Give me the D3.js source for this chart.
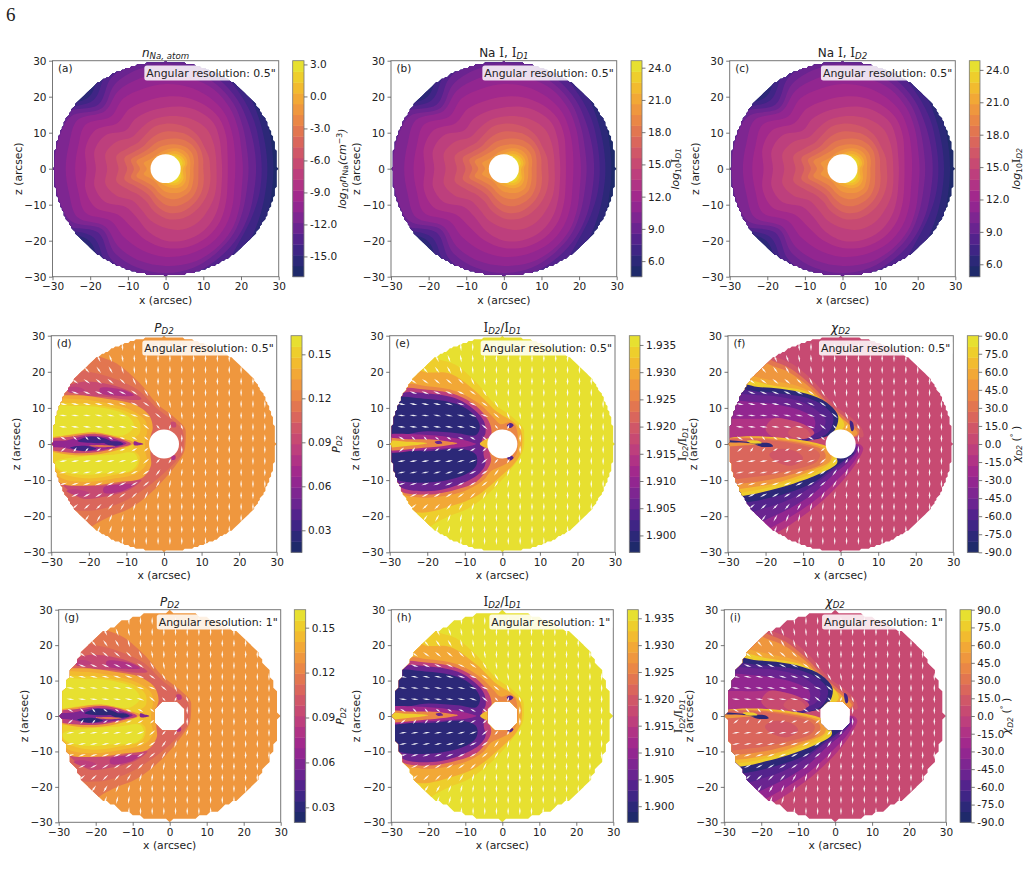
<!DOCTYPE html>
<html>
<head>
<meta charset="utf-8">
<script src="https://cdn.jsdelivr.net/npm/d3@7"></script>
<style>
  html, body { margin: 0; background: #fff; }
  svg text { font-family: "DejaVu Sans", sans-serif; fill: #222; }
</style>
</head>
<body>
<svg id="fig" width="1030" height="874"></svg>
<script>
// Discretised colour table shared by every panel, low to high.
const bandPalette = ["#1f2a6b","#2c2878","#3f2585","#53238c","#6a2490","#7e2691","#922690","#a2298c","#b03385","#bd3f7d",
                     "#c74a72","#d05768","#da665c","#e27650","#ea8746","#ef973e","#f2a836","#f2bb2f","#eece2c","#e7e030"];

// Directions (degrees) at which the emission contours are sampled.
const contourAngles = [0,15,30,45,60,75,90,105,120,135,150,165,180,195,210,225,240,255,270,285,300,315,330,345];

// Contour radii in arcsec for colour bands 1..19 of the density and intensity maps.
const contourRadii = [
  [28.6,29,30.5,33,34,34,34,34,34,30,34,34,34,34,34,30,34,34,34,34,34,33,30.5,29],
  [27,27.3,28.5,30.5,33,34,34,34,33,28.5,33,34,34,34,33,28.5,33,34,34,34,33,30.5,28.5,27.3],
  [25.5,25.8,27,28.5,30.5,33,33,33,31,27,32,33,33,33,32,27,31,33,33,33,31,28,26.5,25.8],
  [24,24.3,25.3,27,28.5,30,31.5,31,29,25.2,31,32,32,32,31,25.2,29,31,31.5,30,28.5,27,25.5,24.3],
  [22,22.3,23.6,25.5,27,28,29,28.5,27,23.8,29,29.5,29.5,29.5,29,23.8,27,28.5,29,28.5,27,25.5,23.6,22.3],
  [20.5,20.8,22.2,24,25.5,26,26.5,26,25,22.7,27,26.5,26.5,26.5,27,22.7,25,26.5,27,27,26,24.5,22.5,20.9],
  [18.5,19,20.3,22,23,23.5,23.5,23,22.5,20.5,24.5,24,24,24,24.5,20.5,22,23.5,24.5,24.5,24,22.5,20.5,18.9],
  [16.5,17,18.5,20,20.5,20.5,20,19.5,19.2,18,21.5,22,21,22,21.5,18,18.5,20.5,22,22.5,22,20.5,18.5,17],
  [15,15.3,16.5,18,18.2,17.8,17,16.5,16,15,18.5,19.5,18.5,19.5,18.5,15,15.5,18,20,20.5,20,18.5,16.7,15.4],
  [13.5,13.8,14.6,15.5,15.5,15,14.5,14,13,12.5,15,16.5,15.5,16.5,15,12.5,13,15,16.5,17.5,17.2,16,15,14],
  [11.8,11.9,11.9,12.5,12.8,12.7,12.5,12,10.8,10.3,11.5,13.5,12.5,13.5,11.5,10.2,10.4,12.2,13.8,14.5,14.3,13.7,13,12.3],
  [10,10.3,10.7,11,11,10.6,10.3,9.7,9,8.6,9.5,11.3,10.2,11.3,9.5,8.6,8.7,10.3,12,12.7,12.5,12,11.3,10.5],
  [8.7,9,9.5,9.6,9.3,8.7,8.2,7.8,7.3,7.2,8,9.5,8.4,9.5,8,7.2,7.3,8.5,10,10.8,10.8,10.5,9.8,9],
  [7.4,7.8,8.2,8.1,7.6,7,6.5,6.2,5.8,6,6.7,8,6.8,8,6.7,6,6,6.9,8,8.8,9,9,8.3,7.7],
  [6.5,6.8,7.1,7,6.5,5.8,5.2,4.8,4.5,4.5,5,6,5,6,5,4.5,4.7,5.5,6.4,7,7.6,7.8,7.2,6.7],
  [5.3,6,6.2,6,5.6,4.9,4.2,3.8,3.5,3.5,3.5,3.5,3.5,3.5,3.5,3.5,3.5,4.3,4.8,5.5,6.2,6.5,6.2,5.6],
  [4.6,5.4,5.5,5.3,4.8,4.2,3.7,3.4,3.4,3.4,3.4,3.4,3.4,3.4,3.4,3.4,3.4,3.6,4,4.6,5.3,5.6,5.5,4.8],
  [3.8,4.7,4.9,4.6,4.2,3.6,3.3,3.3,3.3,3.3,3.3,3.3,3.3,3.3,3.3,3.3,3.3,3.3,3.4,3.9,4.6,4.9,4.8,4.2],
  [3.2,4,4.3,4,3.5,3.2,3,3,3,3,3,3,3,3,3,3,3,3,3,3.3,4,4.3,4.2,3.6]
];

// Filled regions of the polarisation degree P_D2: [value, outline in (x, z) arcsec], painted in order.
const polDegreeRegions = [
  [0.118, [[-22,26],[-17,24.2],[-12.6,22.3],[-6.4,16.8],[-2,11.3],[2.5,7.6],[5.6,4.3],[5.8,2.5],[5.4,-2],[3.8,-4.9],[0.7,-9],[-3.7,-13.7],[-9,-17.8],[-14.4,-20.1],[-18,-22],[-24,-26],[-34,-20],[-34,20]]],
  [0.108, [[-27,20],[-20,20],[-13,18],[-7,15],[-2,10],[3,6],[5,3.5],[5,-2],[3,-5],[-1,-9],[-6,-13],[-12,-16.5],[-20,-18.5],[-27,-17],[-35,0]]],
  [0.095, [[-26.5,15.5],[-22,17.2],[-16,16.8],[-10,15],[-6,12.5],[-9,12.2],[-15,13],[-22,13.5]]],
  [0.08, [[-17,15.5],[-11,15],[-8,13.5],[-12,13.3],[-17,14.2]]],
  [0.085, [[-26,15.3],[-23,15.8],[-21,14.8],[-25,14.2]]],
  [0.095, [[-27,-11],[-22,-15],[-16,-14.6],[-9,-12.5],[-6,-10],[-10,-10.5],[-16,-11.5],[-22,-11.5]]],
  [0.08, [[-16,-13.5],[-11,-13],[-8,-11.2],[-12,-11.2],[-16,-12]]],
  [0.085, [[-26,-13],[-22,-14.5],[-20,-13.5],[-24,-12.5]]],
  [0.09, [[1.8,6],[3,6],[3.2,4.8],[2.2,4.6]]],
  [0.08, [[2,-3.4],[3,-3.2],[3,-4.2],[2,-4.4]]],
  [0.135, [[-33,12],[-24,13.5],[-15,12.5],[-8,11],[-4,8],[-3,4.5],[-3.6,2],[-3.6,-3],[-3.5,-6],[-6,-9.5],[-12,-10.5],[-20,-11.5],[-28,-10.5],[-33,0]]],
  [0.142, [[-33,11.5],[-24,12.5],[-16,11.5],[-9,9.5],[-5,6.5],[-4.5,3.5],[-5,1],[-5,-2],[-4.5,-5],[-7,-8],[-13,-9.5],[-21,-10.5],[-28,-9],[-33,0]]],
  [0.15, [[-33,10.5],[-24,11.3],[-16,10.5],[-9,8.5],[-6.5,6],[-6.5,3],[-8,1.5],[-8,-1.5],[-6.5,-3.5],[-7.5,-7],[-13,-8.5],[-21,-9.5],[-28,-7.5],[-33,0]]],
  [0.158, [[-33,10],[-24,10.5],[-16,10],[-10,8],[-8,5],[-10.5,2.5],[-15,2.5],[-22,3],[-33,2.5]]],
  [0.158, [[-29,-5],[-22,-3.5],[-14,-3],[-8,-2.5],[-7,-5],[-9,-7.5],[-15,-8],[-22,-8.5],[-28,-7]]],
  [0.13, [[-33,0.8],[-25,2.5],[-18,3.2],[-11,1.5],[-8,0.3],[-11,-1.2],[-17,-2.8],[-25,-3],[-33,-0.8]]],
  [0.09, [[-33,0.7],[-25,2],[-18,2.8],[-12,1.5],[-8.8,0],[-12,-1],[-18,-2.3],[-25,-2.4],[-33,-0.7]]],
  [0.06, [[-32,0.5],[-26,1],[-21,2.2],[-16,2],[-12,1],[-10,0.2],[-12,-0.7],[-17,-1.7],[-22,-2],[-27,-1],[-32,-0.5]]],
  [0.03, [[-23,0.8],[-20,2],[-16,1.6],[-14,0.6],[-18,0.2]]],
  [0.03, [[-25,-1],[-21,-0.5],[-18,-1.3],[-22,-1.9]]],
  [0.03, [[-16,0.4],[-12,0.7],[-10.8,0],[-14,-0.5]]],
  [0.115, [[-20,-0.5],[-17,-0.3],[-13,-0.6],[-17,-0.9]]],
  [0.06, [[-8,0.7],[-7,0.5],[-5.5,0],[-7,-0.4],[-8,-0.3]]]
];

// Filled regions of the line ratio I_D2/I_D1.
const ratioRegions = [
  [1.934, [[-22,26],[-17,23.5],[-12.6,22],[-6.4,16.5],[-2,11],[2.5,7.6],[5.6,4.3],[5.8,2.5],[5.6,-1.5],[3.8,-4.9],[0.7,-9],[-3.7,-13.7],[-9,-17.8],[-14.4,-20.1],[-18,-22],[-24,-26],[-34,-20],[-34,20]]],
  [1.930, [[-24,22],[-21,20],[-14,19.5],[-7,14.5],[-1.5,9],[3,6],[5,3.5],[5,-2],[3.5,-5],[-1,-9.5],[-7,-14.5],[-13,-17],[-22,-19],[-28,-17],[-34,0],[-28,17]]],
  [1.925, [[-28,16],[-20,16],[-12,14.5],[-6,11],[-2.5,7.5],[-0.5,5.5],[2,6],[3.5,5],[4,-2],[2.5,-4.5],[0,-6],[-3,-7.5],[-5,-10],[-10,-13],[-16,-14.5],[-22,-14.8],[-28,-13],[-34,0]]],
  [1.915, [[-28,14.8],[-20,15],[-12,13.5],[-7,10.5],[-4,7],[-3,4.5],[-3,2],[-4,0],[-3.5,-2],[-3,-4.5],[-4,-7],[-7,-10.5],[-12,-12.5],[-20,-14],[-28,-12.5],[-34,0]]],
  [1.905, [[-28,13.5],[-20,14],[-12,12.5],[-7.5,9.5],[-5,6.5],[-4.5,3],[-5.5,1],[-5,0.5],[-5,-3],[-4.5,-5.5],[-6,-8],[-11,-11],[-19,-13],[-28,-11.5],[-34,0]]],
  [1.899, [[-33,12],[-20,12.5],[-12,11],[-8,8.5],[-6,5],[-7,2.5],[-12,3],[-20,3.5],[-33,2.5]]],
  [1.899, [[-33,-2.5],[-20,-2],[-10,-1.5],[-7,-3],[-7,-6],[-10,-8.5],[-18,-10.5],[-28,-10],[-33,-6]]],
  [1.912, [[-33,1.8],[-20,2.5],[-12,1.5],[-8,0.4],[-7,0],[-8,-0.4],[-12,-1],[-20,-1.5],[-33,-1.8]]],
  [1.925, [[-33,1.3],[-25,1.3],[-18,1.2],[-14,0.6],[-12,0.2],[-14,-0.3],[-20,-1],[-33,-1.3]]],
  [1.933, [[-33,0.7],[-25,0.6],[-20,0.2],[-25,-0.5],[-33,-0.7]]],
  [1.905, [[-18,0.6],[-16.5,0.8],[-16,0.2],[-17.5,0.1]]],
  [1.931, [[-6,0],[-4,1.5],[-2,1.5],[-2,-1.5],[-4,-1.2]]],
  [1.903, [[1.2,5.2],[2.2,5.8],[3,5.2],[2,4.4]]],
  [1.903, [[1.2,-3.6],[2.2,-3.2],[3,-3.8],[2,-4.6]]]
];

// Filled regions of the polarisation angle chi_D2.
const angleRegions = [
  [15, [[-22,27],[-17,24],[-12.6,22],[-6.4,16.5],[-2,11],[2.5,7.6],[5.6,4.3],[6,2],[4,2],[-3,3],[-34,3],[-34,20]]],
  [30, [[-24,26],[-18,23],[-13.5,21],[-7.5,16],[-3,11],[1.5,7],[5,3.5],[4,2],[-2,3],[-34,3],[-34,17]]],
  [45, [[-24,25],[-19,22],[-14,20],[-8,15.5],[-3.5,10.5],[1,6.5],[4.5,3],[3,2],[-2,3],[-34,3],[-34,16]]],
  [60, [[-27,19],[-18,17.5],[-10,15.5],[-5,12],[-1.5,8.5],[2.5,5],[3,3],[-3,3],[-34,3],[-34,16]]],
  [80, [[-27,18],[-18,16.2],[-10,14.8],[-4.5,12],[-1,8.5],[1,5.2],[-1,3],[-4,3],[-34,3],[-34,16]]],
  [-80, [[-26,16.5],[-22,15.8],[-16,15.3],[-9,13.9],[-3.7,11.5],[-0.7,7.8],[-1.5,4],[-4,2],[-34,1.5],[-34,14]]],
  [-62, [[-26,15],[-22,14.5],[-16,14],[-9,12.8],[-4.5,10.5],[-2,7.5],[-2.5,4.5],[-5,2],[-34,1.5],[-34,13]]],
  [-47, [[-33,13],[-22,13.5],[-16,13],[-10,11.5],[-6,9],[-4,6.5],[-5,4],[-8,2.5],[-34,1.5]]],
  [-32, [[-33,11],[-22,11.5],[-15,10.5],[-10,9],[-7,7],[-7,4.5],[-10,2.5],[-34,1.8]]],
  [-18, [[-33,6],[-22,7],[-15,7],[-11,5.5],[-9,3.5],[-12,2],[-34,2]]],
  [2, [[-18,7],[-13,6.5],[-9,5],[-7,3],[-10,1.5],[-17,1.5],[-20,4]]],
  [12, [[-12,5],[-9,4],[-8,2],[-12,1.5],[-14,3]]],
  [-12, [[-34,-30],[-18,-25],[-10.8,-20.5],[-4.6,-15.5],[0.7,-10],[4.3,-5],[6,-1.2],[5,0],[3,0],[-34,-12]]],
  [-30, [[-34,-30],[-20,-24],[-11.5,-19],[-5.5,-14.5],[-0.5,-9.5],[3.5,-5],[5.2,-1],[4,0],[2,-3],[-34,-12]]],
  [-47, [[-34,-28],[-22,-22],[-13,-17.5],[-7,-13.5],[-2,-8.5],[2,-5],[4.5,-1.5],[4,-0.5],[-34,-12]]],
  [-62, [[-34,-22],[-24,-19],[-14,-15.5],[-8,-12],[-3,-8],[1,-5],[4,-2],[3,-1],[-34,-12]]],
  [-78, [[-34,-17],[-24,-16],[-14,-13.5],[-7,-10.5],[-2.5,-7],[1,-4.5],[3.5,-2.5],[2,-2],[-34,-13]]],
  [80, [[-34,0],[-10,-0.5],[-3,-1],[-1,-4],[-1,-5.4],[-5.5,-8.2],[-12.6,-11],[-18.8,-12.8],[-25,-14.2],[-34,-14.5]]],
  [65, [[-34,0],[-3,-1],[-2,-4],[-3,-5.5],[-6,-7.6],[-13,-10.2],[-19,-12],[-25,-13.2],[-34,-13.5]]],
  [45, [[-34,0],[-5,-0.8],[-2.5,-3],[-3,-5],[-7,-7],[-13,-9.5],[-19,-11.2],[-26,-12.3],[-34,-13]]],
  [33, [[-34,0],[-6,-1],[-4,-3],[-5,-5.5],[-10,-7.5],[-17,-9.5],[-25,-10.8],[-34,-11]]],
  [22, [[-34,0],[-8,-1],[-5.5,-3],[-6.5,-5],[-14,-7.5],[-22,-9],[-34,-9]]],
  [11, [[-17,-1.5],[-12,-2],[-10,-4],[-13,-6],[-17,-5],[-19,-3]]],
  [-80, [[-34,1.2],[-28,0.9],[-22,0.4],[-19,0.2],[-18,-0.6],[-21,-0.8],[-23,-0.1],[-26,0.4],[-34,0.3]]],
  [50, [[-34,0.2],[-26,0.3],[-22,0],[-26,-0.4],[-34,-0.5]]],
  [72, [[-25,0.9],[-22,0.9],[-21,0.3],[-24,0.3]]],
  [-70, [[2.5,6.5],[3.2,6],[3.5,4],[3,3.5],[2.6,4.5]]]
];

// Tilt of the polarisation ticks from vertical, degrees, on a 20 x 20 lattice.
// Rows run from z = +30 to z = -30; columns east of the last listed value are vertical.
const tickTilts = [
  [],
  [0,0,0,0,0,0,-5],
  [0,0,0,0,-25,-20,-10,-3],
  [0,0,0,-40,-35,-30,-15,-5],
  [0,0,-55,-55,-50,-50,-45,-25,-8],
  [0,-70,-70,-68,-68,-65,-65,-55,-30,-8],
  [0,-78,-78,-78,-77,-75,-72,-68,-55,-30,-8],
  [0,-82,-82,-82,-80,-80,-78,-72,-70,-50,-20,-5],
  [0,-85,-85,-85,-85,-83,-80,-72,-50,-40,20,-20],
  [-70,-60,-45,-40,-55,-60,-70,-60,-50],
  [60,50,35,40,60,65,70,60,50],
  [0,80,80,80,80,78,75,70,50,40,30,15],
  [0,78,78,78,76,74,72,65,55,35,15,5],
  [0,72,72,72,70,68,65,60,50,30,10],
  [0,66,65,62,60,58,55,45,25,8],
  [0,0,50,48,45,40,30,15,5],
  [0,0,0,35,30,22,12,5],
  [0,0,0,0,20,15,8],
  [0,0,0,0,0,0,5],
  []
];
// Lattice nodes with a reduced polarisation degree: [row, column, P].
const weakTicks = [[9,1,0.1],[9,2,0.07],[9,3,0.06],[9,4,0.06],[9,5,0.06],[9,6,0.08],[9,7,0.09],[9,8,0.07],
                   [10,1,0.1],[10,2,0.07],[10,3,0.06],[10,4,0.06],[10,5,0.06],[10,6,0.08],[10,7,0.09],[10,8,0.07],
                   [8,9,0.06],[8,10,0.06],[8,11,0.08],[11,9,0.08],[11,10,0.07],[11,11,0.09]];

const axisTicks = [-30,-20,-10,0,10,20,30];
const tickNodes = d3.range(20).map(k => -30 + k * 60 / 19);
const DISK_RADIUS = 30, HOLE_RADIUS = 4;

const frames = {
  a: {l:52.5, r:278.7, t:60.7, b:276.7, cl:292.7, cr:304, gap:42},
  b: {l:391, r:616.7, t:60.7, b:276.7, cl:631, cr:642, gap:37},
  c: {l:729.7, r:955.3, t:60.7, b:276.7, cl:969.3, cr:980, gap:40},
  d: {l:51.3, r:276.7, t:335.7, b:552.3, cl:291, cr:302, gap:38},
  e: {l:389.7, r:615, t:335.7, b:552.3, cl:629.3, cr:640, gap:45.5},
  f: {l:728, r:953.3, t:335.7, b:552.3, cl:967.3, cr:978.7, gap:41},
  g: {l:58.7, r:280.7, t:609.7, b:822.3, cl:294.3, cr:305.7, gap:38},
  h: {l:391.3, r:613.3, t:609.7, b:822.3, cl:627.3, cr:638.3, gap:44},
  i: {l:724.3, r:946, t:609.7, b:822.3, cl:960, cr:971.3, gap:39}
};

const serif = s => ({t:s, serif:true});
const it = s => ({t:s, italic:true});
const labelPol = [it("P"), {t:"D2", sub:true, italic:true}];
const labelRatio = [serif("I"), {t:"D2", sub:true, italic:true}, {t:"/"}, serif("I"), {t:"D1", sub:true, italic:true}];
const labelChi = [it("χ"), {t:"D2", sub:true, italic:true}];

const panels = [
  {id:"a", domain:[-16.9,3.35], ticks:[-15,-12,-9,-6,-3,0,3], fmt:".1f", res:0.5, contours:true,
   title:[it("n"), {t:"Na, atom", sub:true, italic:true}],
   cbLabel:[it("log"), {t:"10", sub:true, italic:true}, it("n"), {t:"Na", sub:true}, it("(cm"), {t:"−3", sup:true}, it(")")]},
  {id:"b", domain:[4.55,24.65], ticks:[6,9,12,15,18,21,24], fmt:".1f", res:0.5, contours:true,
   title:[{t:"Na "}, serif("I"), {t:", "}, serif("I"), {t:"D1", sub:true, italic:true}],
   cbLabel:[it("log"), {t:"10", sub:true}, serif("I"), {t:"D1", sub:true, italic:true}]},
  {id:"c", domain:[4.85,24.85], ticks:[6,9,12,15,18,21,24], fmt:".1f", res:0.5, contours:true,
   title:[{t:"Na "}, serif("I"), {t:", "}, serif("I"), {t:"D2", sub:true, italic:true}],
   cbLabel:[it("log"), {t:"10", sub:true}, serif("I"), {t:"D2", sub:true, italic:true}]},
  {id:"d", domain:[0.015,0.1627], ticks:[0.03,0.06,0.09,0.12,0.15], fmt:".2f", res:0.5, regions:polDegreeRegions, base:0.127, title:labelPol, cbLabel:labelPol},
  {id:"e", domain:[1.8969,1.9367], ticks:[1.9,1.905,1.91,1.915,1.92,1.925,1.93,1.935], fmt:".3f", res:0.5, regions:ratioRegions, base:1.936, title:labelRatio, cbLabel:labelRatio},
  {id:"f", domain:[-90,90], ticks:d3.range(-90,91,15), fmt:".1f", res:0.5, regions:angleRegions, base:0.5, title:labelChi, cbLabel:[...labelChi, {t:" ("}, {t:"°", sup:true}, {t:" )"}]},
  {id:"g", domain:[0.02,0.162], ticks:[0.03,0.06,0.09,0.12,0.15], fmt:".2f", res:1, regions:polDegreeRegions, base:0.127, title:labelPol, cbLabel:labelPol},
  {id:"h", domain:[1.897,1.9366], ticks:[1.9,1.905,1.91,1.915,1.92,1.925,1.93,1.935], fmt:".3f", res:1, regions:ratioRegions, base:1.936, title:labelRatio, cbLabel:labelRatio},
  {id:"i", domain:[-90,90], ticks:d3.range(-90,91,15), fmt:".1f", res:1, regions:angleRegions, base:0.5, title:labelChi, cbLabel:[...labelChi, {t:" ("}, {t:"°", sup:true}, {t:" )"}]}
];

const svg = d3.select("#fig");
const defs = svg.append("defs");

// Writes mixed roman / italic / sub- and superscript runs into a text element.
function richText(sel, runs, size) {
  let shift = 0;
  runs.forEach(run => {
    const target = run.sub ? 2.2 : run.sup ? -4 : 0;
    const span = sel.append("tspan").text(run.t).attr("dy", target - shift);
    shift = target;
    span.style("font-size", ((run.sub || run.sup) ? size * 0.72 : size) + "px");
    if (run.italic) span.style("font-style", "italic");
    if (run.serif) span.style("font-family", "'DejaVu Serif', serif");
  });
}

// Outline of the valid pixels of a map; the coarse maps also lose their occulted centre here.
function maskPath(x, z, res, holeRadius) {
  const pad = 2, n = Math.round(60 / res) + 1 + 2 * pad;
  const values = [];
  for (let j = 0; j < n; j++) for (let i = 0; i < n; i++) {
    const px = -30 + (i - pad) * res, pz = 30 - (j - pad) * res, rr = Math.hypot(px, pz);
    values.push(rr <= DISK_RADIUS && rr >= holeRadius ? 1 : 0);
  }
  const shape = d3.contours().size([n, n]).thresholds([0.995])(values)[0];
  const ring = r => r.map(([cx, cy]) => {
    const dx = -30 + (cx - 0.5 - pad) * res, dz = 30 - (cy - 0.5 - pad) * res;
    return x(dx).toFixed(2) + "," + z(dz).toFixed(2);
  }).join("L");
  return shape.coordinates.map(poly => poly.map(r => "M" + ring(r) + "Z").join("")).join("");
}

panels.forEach(p => {
  const f = frames[p.id];
  const g = svg.append("g");
  const x = d3.scaleLinear().domain([-30, 30]).range([f.l, f.r]);
  const z = d3.scaleLinear().domain([-30, 30]).range([f.b, f.t]);
  const colour = d3.scaleQuantize().domain(p.domain).range(bandPalette);
  const blob = d3.line().x(d => x(d[0])).y(d => z(d[1])).curve(d3.curveCatmullRomClosed.alpha(0.5));

  // Map area, clipped to the valid pixels.
  const fine = p.res < 1;
  const outline = maskPath(x, z, p.res, fine ? 0 : HOLE_RADIUS);
  defs.append("clipPath").attr("id", "mask-" + p.id).append("path").attr("d", outline).attr("clip-rule", "evenodd");
  const map = g.append("g").attr("clip-path", `url(#mask-${p.id})`);
  const baseValue = p.contours ? p.domain[0] : p.base;
  map.append("rect").attr("x", f.l).attr("y", f.t).attr("width", f.r - f.l).attr("height", f.b - f.t).attr("fill", colour(baseValue));

  if (p.contours) {
    const step = (p.domain[1] - p.domain[0]) / bandPalette.length;
    contourRadii.forEach((radii, k) => {
      const outlinePts = radii.map((r, a) => {
        const th = contourAngles[a] * Math.PI / 180;
        return [r * Math.cos(th), r * Math.sin(th)];
      });
      map.append("path").attr("d", blob(outlinePts)).attr("fill", colour(p.domain[0] + (k + 1.5) * step));
    });
  } else {
    p.regions.forEach(([value, pts]) => {
      map.append("path").attr("d", blob(pts)).attr("fill", colour(value));
    });
  }
  if (fine) {
    // The fine maps have a round occulted centre.
    map.append("ellipse").attr("cx", x(0)).attr("cy", z(0))
      .attr("rx", x(HOLE_RADIUS) - x(0)).attr("ry", z(0) - z(HOLE_RADIUS)).attr("fill", "#fff");
  }
  if (!p.contours) {
    // Polarisation ticks: thin lenses whose length follows the polarisation degree.
    const lenScale = d3.scaleLinear().domain([0.05, 0.127]).range([5, 8.2]).clamp(true);
    const weak = new Map(weakTicks.map(([r, c, v]) => [r + ":" + c, v]));
    const nodes = [];
    tickTilts.forEach((row, r) => tickNodes.forEach((px, c) => {
      const pz = tickNodes[19 - r], rad = Math.hypot(px, pz);
      if (rad > 29.9 || rad < 4.6) return;
      nodes.push({px, pz, tilt: row[c] ?? 0, P: weak.get(r + ":" + c) ?? 0.127});
    }));
    map.selectAll("path.tick").data(nodes).join("path").attr("class", "tick")
      .attr("d", d => {
        const h = lenScale(d.P) / 2;
        return `M0,${-h}L0.8,0L0,${h}L-0.8,0Z`;
      })
      .attr("transform", d => `translate(${x(d.px)},${z(d.pz)}) rotate(${d.tilt})`)
      .attr("fill", "#fff").attr("fill-opacity", 0.92);
  }

  // Frame and axes.
  g.append("rect").attr("x", f.l).attr("y", f.t).attr("width", f.r - f.l).attr("height", f.b - f.t)
    .attr("fill", "none").attr("stroke", "#777").attr("stroke-width", 1);
  const xAxis = g.append("g").attr("transform", `translate(0,${f.b})`)
    .call(d3.axisBottom(x).tickValues(axisTicks).tickFormat(d3.format("d")).tickSize(3.5).tickPadding(2.5));
  const yAxis = g.append("g").attr("transform", `translate(${f.l},0)`)
    .call(d3.axisLeft(z).tickValues(axisTicks).tickFormat(d3.format("d")).tickSize(3.5).tickPadding(2.5));
  [xAxis, yAxis].forEach(a => {
    a.select(".domain").remove();
    a.selectAll("line").attr("stroke", "#555").attr("stroke-width", 0.8);
    a.selectAll("text").style("font-size", "10.5px");
  });

  g.append("text").attr("x", (f.l + f.r) / 2).attr("y", f.b + 27).attr("text-anchor", "middle")
    .style("font-size", "10.8px").text("x (arcsec)");
  g.append("text").attr("transform", `translate(${f.l - 31},${(f.t + f.b) / 2}) rotate(-90)`).attr("text-anchor", "middle")
    .style("font-size", "10.8px").text("z (arcsec)");

  richText(g.append("text").attr("x", (f.l + f.r) / 2).attr("y", f.t - 3.5).attr("text-anchor", "middle"), p.title, 12);

  g.append("text").attr("x", f.l + 5.5).attr("y", f.t + 11).style("font-size", "10.5px").text(`(${p.id})`);

  // Resolution note on a translucent rounded box.
  const note = `Angular resolution: ${p.res}"`;
  const noteText = g.append("text").attr("x", f.r - 3).attr("y", f.t + 16).attr("text-anchor", "end")
    .style("font-size", "10.9px").text(note);
  const bb = noteText.node().getBBox();
  g.insert("rect", () => noteText.node())
    .attr("x", bb.x - 2).attr("y", f.t + 4.8).attr("width", bb.width + 4).attr("height", 15)
    .attr("rx", 2.5).attr("fill", "#fff").attr("fill-opacity", 0.85);

  // Colour bar built from the same discrete bands.
  const cb = d3.scaleLinear().domain(p.domain).range([f.b, f.t]);
  const thresholds = colour.thresholds();
  const edges = [p.domain[0], ...thresholds, p.domain[1]];
  g.append("g").selectAll("rect").data(bandPalette).join("rect")
    .attr("x", f.cl).attr("width", f.cr - f.cl)
    .attr("y", (d, k) => cb(edges[k + 1])).attr("height", (d, k) => cb(edges[k]) - cb(edges[k + 1]) + 0.4)
    .attr("fill", d => d);
  g.append("rect").attr("x", f.cl).attr("y", f.t).attr("width", f.cr - f.cl).attr("height", f.b - f.t)
    .attr("fill", "none").attr("stroke", "#777").attr("stroke-width", 0.8);
  const fmt = d3.format(p.fmt);
  const cbAxis = g.append("g").attr("transform", `translate(${f.cr},0)`)
    .call(d3.axisRight(cb).tickValues(p.ticks).tickFormat(v => fmt(v).replace("−", "-")).tickSize(3.5).tickPadding(2.5));
  cbAxis.select(".domain").remove();
  cbAxis.selectAll("line").attr("stroke", "#555").attr("stroke-width", 0.8);
  cbAxis.selectAll("text").style("font-size", "10.5px");
  richText(g.append("text").attr("transform", `translate(${f.cr + f.gap},${(f.t + f.b) / 2}) rotate(-90)`).attr("text-anchor", "middle"), p.cbLabel, 10.8);
});

// Journal page number.
svg.append("text").attr("x", 6).attr("y", 21).style("font-family", "'Liberation Serif', serif").style("font-size", "19px").text("6");
</script>
</body>
</html>
